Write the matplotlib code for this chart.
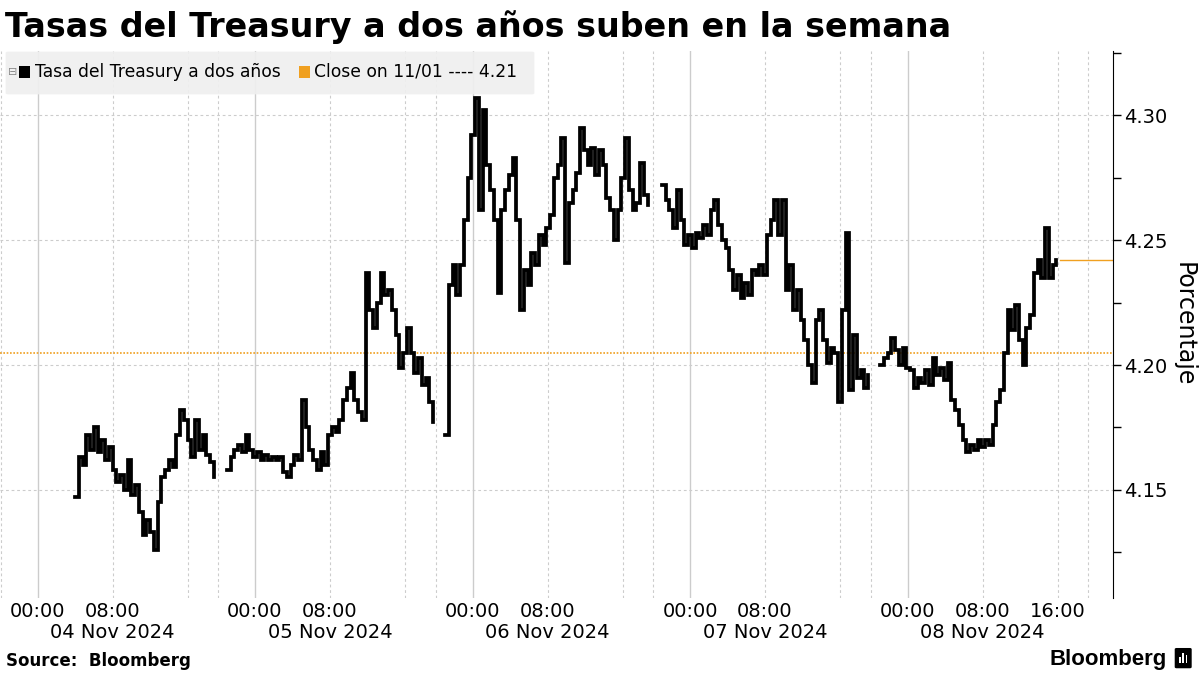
import numpy as np
import matplotlib.pyplot as plt
from matplotlib.patches import FancyBboxPatch, Rectangle

# chart clock: hours from 04 Nov 00:00, one hour of break removed per day
DAY = 23.2
STEP = 0.4

# 2-year Treasury yield, one list per trading session
s1_start = 4.0
s1_vals = [4.147, 4.163, 4.160, 4.172, 4.166, 4.175, 4.165, 4.170, 4.162, 4.167,
           4.158, 4.153, 4.156, 4.150, 4.162, 4.148, 4.152, 4.141, 4.132, 4.138,
           4.133, 4.126, 4.145, 4.155, 4.158, 4.162, 4.159, 4.172, 4.182, 4.178,
           4.170, 4.163, 4.178, 4.166, 4.172, 4.164, 4.161, 4.155]

s2_start = 20.2
s2_vals = [4.158, 4.163, 4.166, 4.168, 4.165, 4.172, 4.166, 4.163, 4.165, 4.162,
           4.164, 4.162, 4.163, 4.162, 4.163, 4.157, 4.155, 4.160, 4.164, 4.162,
           4.186, 4.175, 4.166, 4.162, 4.158, 4.165, 4.160, 4.172, 4.175, 4.173,
           4.178, 4.186, 4.191, 4.197, 4.186, 4.181, 4.178, 4.237, 4.222, 4.215,
           4.225, 4.237, 4.228, 4.230, 4.222, 4.212, 4.199, 4.205, 4.215, 4.205,
           4.197, 4.203, 4.192, 4.195, 4.185, 4.177]

s3_start = 43.47
s3_vals = [4.172, 4.232, 4.240, 4.228, 4.240, 4.258, 4.275, 4.292, 4.307, 4.262,
           4.302, 4.280, 4.270, 4.258, 4.229, 4.262, 4.270, 4.276, 4.283, 4.258,
           4.222, 4.238, 4.232, 4.245, 4.240, 4.252, 4.248, 4.255, 4.260, 4.275,
           4.280, 4.291, 4.241, 4.265, 4.270, 4.277, 4.295, 4.286, 4.280, 4.287,
           4.276, 4.286, 4.280, 4.267, 4.262, 4.250, 4.262, 4.275, 4.291, 4.270,
           4.262, 4.265, 4.281, 4.268, 4.264]

s4_start = 66.6
s4_vals = [4.272, 4.266, 4.262, 4.255, 4.270, 4.258, 4.248, 4.252, 4.247, 4.253,
           4.251, 4.256, 4.252, 4.262, 4.266, 4.256, 4.250, 4.247, 4.238, 4.230,
           4.236, 4.227, 4.233, 4.228, 4.238, 4.236, 4.240, 4.236, 4.252, 4.258,
           4.266, 4.252, 4.266, 4.230, 4.240, 4.222, 4.230, 4.218, 4.210, 4.200,
           4.193, 4.218, 4.222, 4.210, 4.201, 4.207, 4.205, 4.185, 4.222, 4.253,
           4.190, 4.212, 4.195, 4.198, 4.191, 4.196]

s5_start = 89.87
s5_vals = [4.200, 4.203, 4.205, 4.211, 4.206, 4.200, 4.207, 4.199, 4.198, 4.191,
           4.195, 4.193, 4.198, 4.192, 4.203, 4.196, 4.199, 4.194, 4.201, 4.186,
           4.182, 4.176, 4.170, 4.165, 4.168, 4.166, 4.170, 4.167, 4.170, 4.168,
           4.176, 4.185, 4.190, 4.205, 4.222, 4.214, 4.224, 4.210, 4.200, 4.215,
           4.220, 4.237, 4.242, 4.235, 4.255, 4.235, 4.240, 4.242]

sessions = [(s1_start, s1_vals), (s2_start, s2_vals), (s3_start, s3_vals),
            (s4_start, s4_vals), (s5_start, s5_vals)]

prev_close = 4.205
dates = ['04 Nov 2024', '05 Nov 2024', '06 Nov 2024', '07 Nov 2024', '08 Nov 2024']
yticks = [4.15, 4.20, 4.25, 4.30]
legend_labels = ['Tasa del Treasury a dos años', 'Close on 11/01 ---- 4.21']

orange = '#F0A020'
grid_c = '#cccccc'

W, H = 1200, 675
fig = plt.figure(figsize=(12, 6.75), dpi=100)
ax = fig.add_axes([0.0, 0.1141, 0.9275, 0.8103])

# vertical grid: solid at midnight, dashed at 08:00, 16:00 and session break
for i in range(-1, 6):
    d0 = i * DAY
    ax.axvline(d0, color=grid_c, lw=1.0, zorder=0)
    for h in (8, 16, 19.3):
        ax.axvline(d0 + h, color=grid_c, lw=0.8, ls=(0, (2.5, 2.5)), zorder=0)
for y in yticks:
    ax.axhline(y, color=grid_c, lw=0.8, ls=(0, (2.5, 2.5)), zorder=0)

ax.axhline(prev_close, color=orange, lw=1.2, ls=(0, (1, 1)), zorder=1)

for start, vals in sessions:
    t = start + STEP * np.arange(len(vals))
    ax.plot(t, vals, color='black', lw=2.7, drawstyle='steps-post', zorder=3,
            solid_joinstyle='miter')

last_t = s5_start + STEP * len(s5_vals)
xmax = 114.72
ax.plot([last_t, xmax], [s5_vals[-1], s5_vals[-1]], color=orange, lw=1.0, zorder=2)

ax.set_xlim(-4.0, xmax)
ax.set_ylim(4.1068, 4.3256)

# x labels: times on the ticks, dates as a second row under 08:00
xt, xl = [], []
for i in range(len(dates)):
    xt += [i * DAY, i * DAY + 8]
    xl += ['00:00', '08:00']
xt.append(4 * DAY + 16)
xl.append('16:00')
ax.set_xticks(xt)
ax.set_xticklabels(xl, fontsize=14)
ax.tick_params(axis='x', length=0, pad=3)
for i, d in enumerate(dates):
    ax.text(i * DAY + 8, -0.045, d, transform=ax.get_xaxis_transform(),
            fontsize=14, ha='center', va='top')

ax.yaxis.tick_right()
ax.yaxis.set_label_position('right')
ax.set_yticks(yticks)
ax.set_yticklabels(['%.2f' % v for v in yticks], fontsize=14)
ax.set_yticks([4.125, 4.175, 4.225, 4.275, 4.325], minor=True)
ax.tick_params(axis='y', which='both', length=6, width=1, color='black', pad=2)
ax.set_ylabel('Porcentaje', fontsize=17, rotation=270, labelpad=20)

for s in ('left', 'top', 'bottom'):
    ax.spines[s].set_visible(False)
ax.spines['right'].set_color('black')

# legend drawn by hand so the little icon fits in front of the first key
def fx(px):
    return px / W

def fy(py):
    return 1 - py / H

fig.patches.append(FancyBboxPatch((fx(8), fy(93)), fx(524), 40 / H,
                                  boxstyle='round,pad=0.002', transform=fig.transFigure,
                                  fc='#efefef', ec='none', alpha=0.92, zorder=5))
fig.text(fx(13), fy(72), '⊟', fontsize=8, color='#888888', va='center', ha='center', zorder=6)
fig.patches.append(Rectangle((fx(19), fy(78)), 11 / W, 12 / H, transform=fig.transFigure,
                             fc='black', ec='none', zorder=6))
fig.text(fx(35), fy(72), legend_labels[0], fontsize=12.3, va='center', ha='left', zorder=6)
fig.patches.append(Rectangle((fx(299), fy(78)), 11 / W, 12 / H, transform=fig.transFigure,
                             fc=orange, ec='none', zorder=6))
fig.text(fx(314), fy(72), legend_labels[1], fontsize=12.3, va='center', ha='left', zorder=6)

fig.text(0.004, 0.985, 'Tasas del Treasury a dos años suben en la semana',
         fontsize=24, fontweight='bold', va='top', ha='left')
fig.text(0.005, 0.008, 'Source:  Bloomberg', fontsize=12, fontweight='bold', va='bottom', ha='left')
fig.text(0.972, 0.008, 'Bloomberg', fontsize=16, fontweight='bold', family='Liberation Sans',
         va='bottom', ha='right')
# small logo mark
fig.patches.append(FancyBboxPatch((0.9805, 0.012), 0.011, 0.026, boxstyle='round,pad=0.001',
                                  transform=fig.transFigure, fc='black', ec='black'))
for k, hgt in enumerate((0.009, 0.014, 0.011)):
    fig.patches.append(Rectangle((0.9825 + k * 0.0028, 0.018), 0.0014, hgt,
                                 transform=fig.transFigure, fc='white', ec='none'))

fig.savefig('out.png', dpi=100)
